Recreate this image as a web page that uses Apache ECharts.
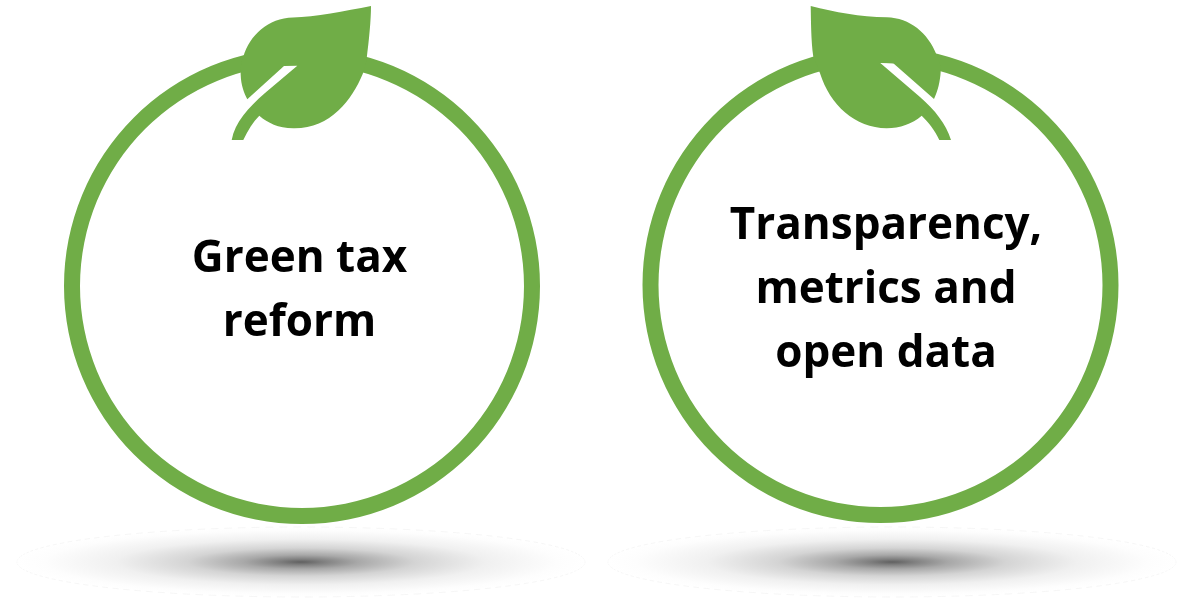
<!DOCTYPE html>
<html lang="en">
<head>
    <meta charset="utf-8">
    <title>Green topics</title>
    <style>
        html, body { margin: 0; padding: 0; background: #fff; }
        #main { width: 1192px; height: 600px; }
    </style>
</head>
<body>
    <div id="main"></div>
    <script src="https://cdn.jsdelivr.net/npm/echarts@6/dist/echarts.min.js"></script>
    <script>
        var topics = ['Green tax\nreform', 'Transparency,\nmetrics and\nopen data']
        var ringValues = [1, 1]

        var green = '#70ad47'

        var leafLeft = 'M371 6C345 11 315 17 293 17.5C268 18 250 35 243.3 56.7C241 62 240.5 70 240.7 75C241 85 244 93 247.3 99.3L284 66L297.3 65.7L265 93C248 108 235 122 231.7 140L243.3 140C248 130 253 122 259.3 115.7C268 123 278 128 293.3 128.3C330 129 352 100 362.7 74C365 68 366 63 366.7 58.3C369 40 371 20 371 6Z'
        var leafRight = 'M810.7 6C835 12 860 17 886.7 17.3C910 18 928 33 936.7 55C939 60 941 66 940.7 71.7C940 82 938 90 934 99L893.3 63.3L880 62.7L920 97C935 110 946 124 951 140L939.3 140C935 130 928 122 921.7 115.7C912 124 900 128 886.7 128.3C855 128 830 105 820 73.3C817 65 815 60 813.3 56.7C811 40 811 20 810.7 6Z'

        // the graphic component has no plain path type, so register the two leaves
        echarts.graphic.registerShape('leafLeft', echarts.graphic.extendPath(leafLeft))
        echarts.graphic.registerShape('leafRight', echarts.graphic.extendPath(leafRight))

        var ring = (i, cx, cy, dx, dy) => {
            return {
                type: 'pie',
                silent: true,
                center: [cx, cy],
                radius: [222, 238],
                itemStyle: { color: green },
                labelLine: { show: false },
                label: {
                    show: true,
                    position: 'center',
                    formatter: '{b}',
                    color: '#000',
                    fontFamily: 'Open Sans',
                    fontWeight: 'bold',
                    fontSize: 44,
                    lineHeight: 64,
                },
                labelLayout: { dx: dx, dy: dy },
                emphasis: { disabled: true },
                data: [{ name: topics[i], value: ringValues[i] }],
            }
        }

        var shadow = (cx, cy) => {
            return {
                type: 'circle',
                x: cx,
                y: cy,
                scaleY: 35 / 284,
                shape: { cx: 0, cy: 0, r: 284 },
                style: {
                    fill: {
                        type: 'radial',
                        x: 0.5, y: 0.5, r: 0.5,
                        colorStops: [
                            { offset: 0, color: '#606060' },
                            { offset: 0.08, color: '#808080' },
                            { offset: 0.2, color: '#a8a8a8' },
                            { offset: 0.4, color: '#d4d4d4' },
                            { offset: 0.65, color: '#f0f0f0' },
                            { offset: 0.9, color: '#fdfdfd' },
                            { offset: 1, color: '#fff' },
                        ],
                    },
                    stroke: '#eee',
                    lineWidth: 1,
                    lineDash: [8, 6],
                    strokeNoScale: true,
                },
            }
        }

        var leaf = (name) => {
            return {
                type: name,
                z: 10,
                style: { fill: green },
            }
        }

        var chart = echarts.init(document.querySelector('#main'))
        chart.setOption({
            animation: false,
            series: [ring(0, 302, 286, -2.5, 5), ring(1, 880.5, 285, 5.5, 5)],
            graphic: [
                shadow(301, 562),
                shadow(892, 562),
                leaf('leafLeft'),
                leaf('leafRight'),
            ],
        })
    </script>
</body>
</html>
